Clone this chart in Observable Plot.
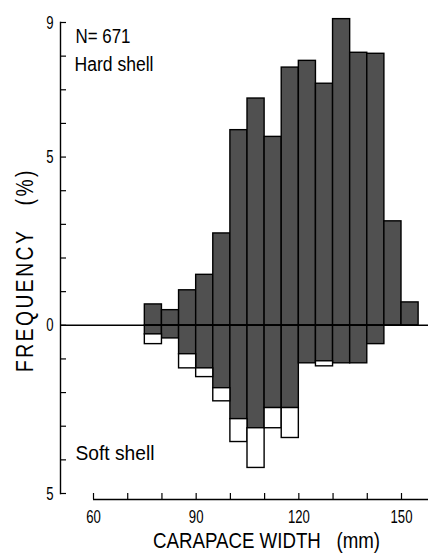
<!DOCTYPE html>
<html>
<head>
<meta charset="utf-8">
<script src="https://cdn.jsdelivr.net/npm/d3@7"></script>
<script src="https://cdn.jsdelivr.net/npm/@observablehq/plot@0.6"></script>
<style>
  html, body { margin: 0; padding: 0; background: #fff; }
  #chart svg { display: block; }
</style>
</head>
<body>
<div id="chart"></div>
<script>
// Bin starts (mm), bin width 5 mm
const binStart = [75, 80, 85, 90, 95, 100, 105, 110, 115, 120, 125, 130, 135, 140, 145, 150];
const binWidth = 5;
// Hard shell frequency (%), plotted upward
const hardShell = [0.62, 0.45, 1.04, 1.5, 2.73, 5.8, 6.74, 5.6, 7.66, 7.86, 7.18, 9.1, 8.1, 8.07, 3.09, 0.68];
// Soft shell frequency (%), plotted downward: shaded part and open (white) part
const softShaded = [0.27, 0.39, 0.86, 1.28, 1.87, 2.79, 3.06, 2.46, 2.46, 1.13, 1.07, 1.13, 1.13, 0.56, 0, 0];
const softOpen   = [0.29, 0, 0.42, 0.26, 0.39, 0.68, 1.18, 0.6, 0.89, 0, 0.15, 0, 0, 0, 0, 0];
// Axis ticks
const yTicks = [-5, -4, -3, -2, -1, 0, 1, 2, 3, 4, 5, 6, 7, 8, 9];
const yTickLabels = [9, 5, 0, -5];
const xTicks = [60, 70, 80, 90, 100, 110, 120, 130, 140, 150];
const xTickLabels = [60, 90, 120, 150];
const xAxisEnd = 158;
// Text
const yTitle = "FREQUENCY   (%)";
const xTitle = "CARAPACE WIDTH   (mm)";
const nLabel = "N= 671";
const hardLabel = "Hard shell";
const softLabel = "Soft shell";

const rows = binStart.map((b, i) => ({
  x1: b, x2: b + binWidth,
  hard: hardShell[i],
  shaded: -softShaded[i],
  openEnd: -(softShaded[i] + softOpen[i]),
  hasOpen: softOpen[i] > 0
}));

const font = '"Liberation Sans", Arial, sans-serif';
const barFill = "#505050";

const chart = Plot.plot({
  width: 428,
  height: 558,
  marginLeft: 60,
  marginRight: 0,
  marginTop: 22,
  marginBottom: 65,
  style: { fontFamily: font, background: "#fff" },
  x: { domain: [60, 150], range: [93, 401] },
  y: { domain: [-5, 9] },
  marks: [
    Plot.rectY(rows.filter(d => d.shaded < 0), { x1: "x1", x2: "x2", y1: 0, y2: "shaded", fill: barFill, stroke: "#000", strokeWidth: 1.4 }),
    Plot.rectY(rows.filter(d => d.hasOpen), { x1: "x1", x2: "x2", y1: "shaded", y2: "openEnd", fill: "#fff", stroke: "#000", strokeWidth: 1.4 }),
    Plot.rectY(rows, { x1: "x1", x2: "x2", y1: 0, y2: "hard", fill: barFill, stroke: "#000", strokeWidth: 1.4 }),
    Plot.ruleY([0], { stroke: "#000", strokeWidth: 1.5 }),
    Plot.frame({ anchor: "left", stroke: "#000", strokeWidth: 1.4 }),
    Plot.axisY({ ticks: yTicks, tickSize: -6, text: null, label: null, strokeWidth: 1.2 }),
    Plot.axisY({ ticks: yTickLabels, tickSize: 0, tickPadding: 7, tickFormat: d => String(Math.abs(d)), label: null, fontSize: 19, fill: "#000" }),
    Plot.ruleY([-5], { x1: 60, x2: xAxisEnd, dy: 6, stroke: "#000", strokeWidth: 1.4 }),
    Plot.axisX({ ticks: xTicks, tickSize: -6, dy: 6, text: null, label: null, strokeWidth: 1.2 }),
    Plot.axisX({ ticks: xTickLabels, tickSize: 0, tickPadding: 10, dy: 6, label: null, fontSize: 19, fill: "#000" }),
    Plot.text([yTitle], { frameAnchor: "left", text: d => d, rotate: -90, dx: -35, dy: 12, fontSize: 23, fill: "#000", textAnchor: "middle" }),
    Plot.text([xTitle], { frameAnchor: "bottom", text: d => d, dx: 22, dy: 54, fontSize: 22, fill: "#000", textAnchor: "middle" }),
    Plot.text([nLabel], { frameAnchor: "top-left", text: d => d, dx: 15, dy: 6, fontSize: 20, fill: "#000", textAnchor: "start" }),
    Plot.text([hardLabel], { frameAnchor: "top-left", text: d => d, dx: 14, dy: 34, fontSize: 20, fill: "#000", textAnchor: "start" }),
    Plot.text([softLabel], { frameAnchor: "top-left", text: d => d, dx: 15, dy: 423, fontSize: 20, fill: "#000", textAnchor: "start" })
  ]
});

document.getElementById("chart").appendChild(chart);

// condensed look: fit text to the reference widths
const glyphFit = new Map([[nLabel, 55], [hardLabel, 79], [softLabel, 79], [yTitle, 204], [xTitle, 227]]);
d3.select(chart).selectAll("text").each(function() {
  const target = this.querySelector("tspan") || this;
  const t = this.textContent.trim();
  let w = glyphFit.get(t);
  if (t === yTitle) this.style.letterSpacing = "3px";
  if (w == null && /^\d+$/.test(t)) w = 7.3 * t.length;
  if (w != null) {
    target.setAttribute("textLength", w);
    target.setAttribute("lengthAdjust", "spacingAndGlyphs");
  }
});
</script>
</body>
</html>
